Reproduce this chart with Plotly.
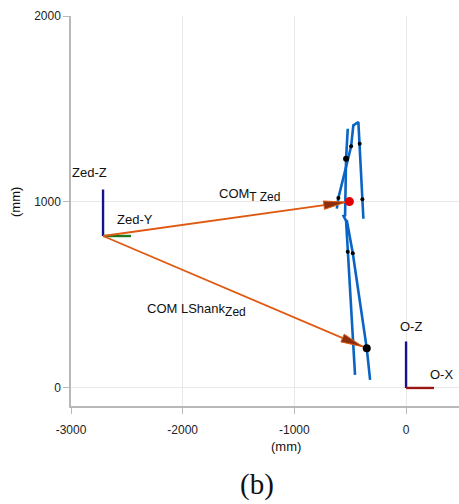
import numpy as np
import plotly.graph_objects as go

# ---- data (mm) ----
# lower-body segment polylines (sagittal view)
seg1_x = [-382, -415, -427, -472, -492, -606, -620]
seg1_y = [910, 1313, 1430, 1412, 1299, 1022, 964]
seg2_x = [-522, -537, -546, -560, -537, -522, -457]
seg2_y = [1394, 1233, 928, 925, 898, 733, 70]
seg3_x = [-531, -477, -352, -322]
seg3_y = [903, 724, 213, 43]

# joint markers
mark_x = [-415, -492, -606, -391, -522, -477]
mark_y = [1313, 1299, 1022, 1015, 733, 724]
knee_x = [-537]
knee_y = [1233]

# Zed camera frame origin and world origin
zed_origin = (-2713, 817)
world_origin = (0, 0)
axis_len = 250

# centres of mass
com_t = (-507, 1002)
com_lshank = (-352, 213)
arrow_scale = 0.985

# axis ticks
x_ticks = [-3000, -2000, -1000, 0]
x_ticktext = ["-3000", "-2000", "-1000", "0"]
y_ticks = [0, 1000, 2000]
y_ticktext = ["0", "1000", "2000"]

# ---- layout geometry ----
W, H = 459, 504
ML, MR, MT, MB = 71, 0, 16, 98
XR = [-3000, 474]
YR = [-97, 2000]
sx = (W - ML - MR) / (XR[1] - XR[0])   # px per mm
sy = (H - MT - MB) / (YR[1] - YR[0])

ORANGE = "#DE5A12"
HEAD = "#8A300E"
BLUE = "#0A64C4"
NAVY = "#14148A"
GREEN = "#1C7A1C"
DRED = "#9A1616"

fig = go.Figure()

for xs, ys in [(seg1_x, seg1_y), (seg2_x, seg2_y), (seg3_x, seg3_y)]:
    fig.add_trace(go.Scatter(x=xs, y=ys, mode="lines",
                             line=dict(color=BLUE, width=2.6)))

# coordinate frame axes
zx, zy = zed_origin
fig.add_trace(go.Scatter(x=[zx, zx], y=[zy, zy + axis_len], mode="lines",
                         line=dict(color=NAVY, width=2.4)))
fig.add_trace(go.Scatter(x=[zx, zx + axis_len], y=[zy, zy], mode="lines",
                         line=dict(color=GREEN, width=2.4)))
ox, oy = world_origin
fig.add_trace(go.Scatter(x=[ox, ox], y=[oy, oy + axis_len], mode="lines",
                         line=dict(color=NAVY, width=2.4)))
fig.add_trace(go.Scatter(x=[ox, ox + axis_len], y=[oy, oy], mode="lines",
                         line=dict(color=DRED, width=2.4)))


def add_arrow(start, end, scale):
    x0, y0 = start
    tx = x0 + (end[0] - x0) * scale
    ty = y0 + (end[1] - y0) * scale
    fig.add_trace(go.Scatter(x=[x0, tx], y=[y0, ty], mode="lines",
                             line=dict(color=ORANGE, width=1.8)))
    # arrow head built in pixel space, mapped back to data units
    dxp = (tx - x0) * sx
    dyp = (ty - y0) * sy
    n = np.hypot(dxp, dyp)
    ux, uy = dxp / n, dyp / n
    L, Wd = 22, 4.2
    bx, by = -ux * L, -uy * L
    px = [0, bx - uy * Wd, bx + uy * Wd, 0]
    py = [0, by + ux * Wd, by - ux * Wd, 0]
    hx = [tx + p / sx for p in px]
    hy = [ty + q / sy for q in py]
    fig.add_trace(go.Scatter(x=hx, y=hy, mode="lines", fill="toself",
                             fillcolor=HEAD, line=dict(color=ORANGE, width=1)))


add_arrow(zed_origin, com_t, arrow_scale)
add_arrow(zed_origin, com_lshank, arrow_scale)

fig.add_trace(go.Scatter(x=mark_x, y=mark_y, mode="markers",
                         marker=dict(color="black", size=4)))
fig.add_trace(go.Scatter(x=knee_x, y=knee_y, mode="markers",
                         marker=dict(color="black", size=6)))
fig.add_trace(go.Scatter(x=[com_t[0]], y=[com_t[1]], mode="markers",
                         marker=dict(color="#E50000", size=9)))
fig.add_trace(go.Scatter(x=[com_lshank[0]], y=[com_lshank[1]], mode="markers",
                         marker=dict(color="black", size=8)))

SANS = "Liberation Sans, Arial, sans-serif"
lab_font = dict(family=SANS, size=13, color="#111")
sub = "<sub><span style='font-size:12px'>{}</span></sub>"
anns = [
    dict(x=zx - 120, y=zy + 340, text="Zed-Z", xanchor="center", yanchor="middle"),
    dict(x=zx + 110, y=zy + 90, text="Zed-Y", xanchor="left", yanchor="middle"),
    dict(x=ox + 40, y=oy + 330, text="O-Z", xanchor="center", yanchor="middle"),
    dict(x=ox + 320, y=oy + 75, text="O-X", xanchor="center", yanchor="middle"),
    dict(x=-1690, y=1040, text="COM" + sub.format("T Zed"), xanchor="left", yanchor="middle"),
    dict(x=-2337, y=418, text="COM LShank" + sub.format("Zed"), xanchor="left", yanchor="middle"),
]
for a in anns:
    a.update(xref="x", yref="y", showarrow=False, font=lab_font)
anns += [
    dict(xref="paper", yref="paper", x=(286 - ML) / (W - ML - MR),
         y=-(446 - (H - MB)) / (H - MT - MB), text="(mm)", showarrow=False,
         xanchor="center", yanchor="middle", font=lab_font),
    dict(xref="paper", yref="paper", x=-(ML - 15) / (W - ML - MR),
         y=(H - MB - 202) / (H - MT - MB), text="(mm)", showarrow=False,
         textangle=-90, xanchor="center", yanchor="middle", font=lab_font),
    dict(xref="paper", yref="paper", x=(257 - ML) / (W - ML - MR),
         y=-(484 - (H - MB)) / (H - MT - MB), text="(b)", showarrow=False,
         xanchor="center", yanchor="middle",
         font=dict(family="Liberation Serif, serif", size=29, color="#111")),
]

axis_common = dict(showgrid=True, gridcolor="#e8e8e8", gridwidth=1,
                   zeroline=False, showline=True, linecolor="#b8b8b8", linewidth=1.5,
                   ticks="outside", tickcolor="#b8b8b8", ticklen=6, tickwidth=1.2,
                   tickfont=dict(family=SANS, size=12, color="#222"))

fig.update_layout(
    width=W, height=H,
    margin=dict(l=ML, r=MR, t=MT, b=MB),
    paper_bgcolor="white", plot_bgcolor="white",
    showlegend=False,
    xaxis=dict(range=XR, tickvals=x_ticks, ticktext=x_ticktext,
               ticklabelstandoff=6, **axis_common),
    yaxis=dict(range=YR, tickvals=y_ticks, ticktext=y_ticktext, **axis_common),
    annotations=anns,
)

fig.write_html("out.html")
